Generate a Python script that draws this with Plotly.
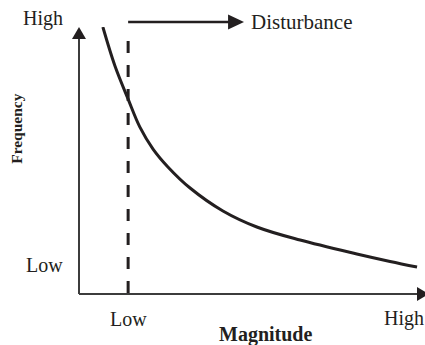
import plotly.graph_objects as go

# Frequency–magnitude curve (arbitrary 0–10 scales on both axes)
magnitude = [0.69, 1.04, 1.42, 1.76, 2.14, 2.57, 3.21, 4.16, 5.14, 6.39, 8.03, 8.99, 9.77]
frequency = [10.0, 8.54, 7.30, 6.25, 5.43, 4.76, 3.97, 3.11, 2.51, 2.02, 1.50, 1.22, 1.01]

# Threshold above which an event counts as a disturbance
disturbance_start = 1.42
disturbance_arrow_end = 4.77
disturbance_level = 10.19
dashed_top = 9.48

# Qualitative tick labels
x_tick_pos = [1.42, 9.39]
x_tick_text = ["Low", "High"]
y_tick_pos = [1.09, 10.3]
y_tick_text = ["Low", "High"]

INK = "#231f20"
AXIS = "#3c3c3c"
SERIF = "Liberation Serif"

W, H = 425, 345
ML, MR, MT, MB = 79, 0, 27, 51
PW, PH = W - ML - MR, H - MT - MB  # plot area in pixels
X_RANGE = [0, 10]
Y_RANGE = [0, 10]

fig = go.Figure()

# dashed threshold line
fig.add_trace(go.Scatter(
    x=[disturbance_start, disturbance_start], y=[dashed_top, 0],
    mode="lines", line=dict(color=INK, width=3, dash="12px,12px"),
    hoverinfo="skip", showlegend=False, cliponaxis=False,
))

# frequency curve
fig.add_trace(go.Scatter(
    x=magnitude, y=frequency, mode="lines",
    line=dict(color=INK, width=3, shape="spline", smoothing=1.0),
    showlegend=False, cliponaxis=False,
))


def px_x(v):
    return (v - X_RANGE[0]) / (X_RANGE[1] - X_RANGE[0])


def px_y(v):
    return (v - Y_RANGE[0]) / (Y_RANGE[1] - Y_RANGE[0])


def head_path(tip_x, tip_y, direction, length, half):
    """Filled triangular arrowhead in paper coordinates; sizes in pixels."""
    lx, ly = length / PW, length / PH
    hx, hy = half / PW, half / PH
    if direction == "up":
        pts = [(tip_x, tip_y), (tip_x - hx, tip_y - ly), (tip_x + hx, tip_y - ly)]
    else:  # right
        pts = [(tip_x, tip_y), (tip_x - lx, tip_y + hy), (tip_x - lx, tip_y - hy)]
    return "M " + " L ".join(f"{a:.5f},{b:.5f}" for a, b in pts) + " Z"


shapes = []
# axes
shapes.append(dict(type="line", xref="paper", yref="paper", x0=0, y0=0, x1=0, y1=1 - 10 / PH,
                   line=dict(color=AXIS, width=2)))
shapes.append(dict(type="line", xref="paper", yref="paper", x0=0, y0=0, x1=1 - 2 / PW, y1=0,
                   line=dict(color=AXIS, width=2)))
shapes.append(dict(type="path", xref="paper", yref="paper", path=head_path(0, 1, "up", 12, 7),
                   fillcolor=INK, line=dict(width=0)))
shapes.append(dict(type="path", xref="paper", yref="paper", path=head_path(1 + 4 / PW, 0, "right", 12, 7),
                   fillcolor=INK, line=dict(width=0)))

# disturbance arrow
dx0, dx1, dy = px_x(disturbance_start), px_x(disturbance_arrow_end), px_y(disturbance_level)
shapes.append(dict(type="line", xref="paper", yref="paper", x0=dx0, y0=dy, x1=dx1 - 14 / PW, y1=dy,
                   line=dict(color=INK, width=2.5)))
shapes.append(dict(type="path", xref="paper", yref="paper", path=head_path(dx1, dy, "right", 16, 7.5),
                   fillcolor=INK, line=dict(width=0)))

annotations = []
for xv, txt in zip(x_tick_pos, x_tick_text):
    annotations.append(dict(x=px_x(xv), y=px_y(-0.92), xref="paper", yref="paper", text=txt,
                            showarrow=False, xanchor="center", yanchor="middle",
                            font=dict(family=SERIF, size=20, color=INK)))
for yv, txt in zip(y_tick_pos, y_tick_text):
    annotations.append(dict(x=0, y=px_y(yv), xref="paper", yref="paper", text=txt, showarrow=False,
                            xanchor="right", yanchor="middle", xshift=-14,
                            font=dict(family=SERIF, size=20, color=INK)))

annotations.append(dict(x=px_x(disturbance_arrow_end), y=px_y(disturbance_level), xref="paper",
                        yref="paper", text="Disturbance", showarrow=False, xanchor="left",
                        yanchor="middle", xshift=5, font=dict(family=SERIF, size=21, color=INK)))
annotations.append(dict(x=px_x(5.4), y=px_y(-1.52), xref="paper", yref="paper",
                        text="<b>Magnitude</b>", showarrow=False, xanchor="center",
                        yanchor="middle", font=dict(family=SERIF, size=20, color=INK)))
annotations.append(dict(x=px_x(-1.81), y=px_y(6.2), xref="paper", yref="paper",
                        text="<b>Frequency</b>", showarrow=False, textangle=-90,
                        xanchor="center", yanchor="middle",
                        font=dict(family=SERIF, size=15.5, color=INK)))

fig.update_layout(
    width=W, height=H,
    margin=dict(l=ML, r=MR, t=MT, b=MB),
    paper_bgcolor="white", plot_bgcolor="white",
    xaxis=dict(range=X_RANGE, visible=False, fixedrange=True),
    yaxis=dict(range=Y_RANGE, visible=False, fixedrange=True),
    shapes=shapes, annotations=annotations,
    showlegend=False,
)

fig.write_html("out.html", config={"displayModeBar": False})
